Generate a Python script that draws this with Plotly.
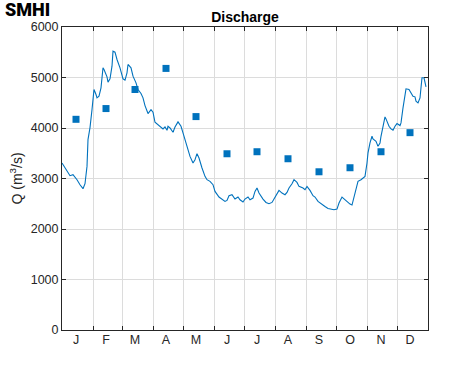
import plotly.graph_objects as go

# Daily discharge (day of year, leap-year axis)
day = [1, 6, 9, 12, 16, 19, 22, 24, 26, 27, 29, 31, 33, 35, 36, 38, 40, 42, 43, 46,
       47, 49, 51, 52, 54, 56, 59, 62, 64, 66, 67, 70, 72, 75, 77, 80, 82, 84, 87, 90,
       92, 94, 97, 101, 102, 104, 106, 107, 109, 112, 114, 117, 120, 122, 125, 127, 129, 132, 134, 136,
       138, 141, 144, 146, 149, 152, 154, 158, 161, 164, 166, 168, 171, 174, 177, 179, 182, 184, 187, 189,
       192, 194, 196, 198, 202, 205, 208, 211, 213, 216, 218, 221, 224, 226, 228, 231, 233, 236, 238, 242,
       244, 246, 249, 252, 254, 257, 261, 264, 267, 271, 273, 276, 278, 281, 283, 286, 289, 291, 293, 295,
       297, 300, 302, 304, 306, 307, 309, 311, 312, 315, 317, 319, 320, 322, 324, 325, 328, 330, 332, 334,
       336, 339, 340, 342, 344, 345, 348, 350, 352, 354, 355, 357, 359, 360, 361, 363, 364, 365]
discharge = [3307, 3141, 3056, 3075, 2976, 2877, 2798, 2897, 3240, 3770, 4008, 4365, 4762, 4663, 4597, 4630, 4796, 5192, 5159, 5014,
             4907, 4974, 5224, 5522, 5502, 5357, 5192, 4974, 4947, 5093, 5258, 5192, 5026, 4894, 4762, 4683, 4597, 4444, 4286, 4365,
             4312, 4114, 4067, 4001, 3982, 4021, 3955, 4034, 4001, 3915, 4021, 4121, 4034, 3902, 3704, 3605, 3438, 3307, 3373, 3492,
             3406, 3208, 3042, 2976, 2943, 2877, 2744, 2633, 2593, 2546, 2566, 2659, 2679, 2593, 2633, 2579, 2534, 2593, 2633, 2579,
             2613, 2744, 2811, 2712, 2593, 2526, 2500, 2526, 2593, 2698, 2764, 2712, 2679, 2725, 2811, 2897, 2976, 2923, 2844, 2811,
             2778, 2844, 2764, 2659, 2633, 2546, 2480, 2447, 2407, 2381, 2381, 2395, 2514, 2633, 2593, 2546, 2494, 2474, 2613, 2778,
             2943, 2976, 3010, 3042, 3307, 3506, 3704, 3836, 3783, 3736, 3637, 3704, 3836, 4034, 4220, 4180, 4034, 3982, 3955, 4034,
             4087, 4048, 4101, 4399, 4630, 4776, 4762, 4696, 4630, 4617, 4530, 4498, 4597, 4796, 4994, 4994, 4895, 4815]

# Monthly mean values (squares)
month_mid_day = [15, 45, 74, 105, 135, 166, 196, 227, 258, 289, 320, 349]
monthly_mean = [4172, 4385, 4762, 5180, 4226, 3490, 3530, 3391, 3133, 3213, 3530, 3908]

month_start_day = [1, 32, 61, 92, 122, 153, 183, 214, 245, 275, 306, 336, 367]
month_labels = ["J", "F", "M", "A", "M", "J", "J", "A", "S", "O", "N", "D"]

BLUE = "#0072BD"
TXT = "#262626"
GRID = "#dcdcdc"
FONT = "Arial, Liberation Sans, Helvetica, sans-serif"

fig = go.Figure()
fig.add_trace(go.Scatter(x=day, y=discharge, mode="lines",
                         line=dict(color=BLUE, width=1.1), showlegend=False, hoverinfo="skip"))
fig.add_trace(go.Scatter(x=month_mid_day, y=monthly_mean, mode="markers", xaxis="x2",
                         marker=dict(symbol="square", size=7, color=BLUE, line=dict(width=0)),
                         showlegend=False, hoverinfo="skip"))

fig.update_layout(
    width=471, height=371,
    margin=dict(l=62, r=43, t=27, b=41),
    paper_bgcolor="white", plot_bgcolor="white",
    font=dict(family=FONT, size=12.5, color=TXT),
    title=dict(text="<b>Discharge</b>", x=0.5, xanchor="center", xref="paper",
               y=1, yref="container", yanchor="top", pad=dict(t=12),
               font=dict(family=FONT, size=14, color="black")),
    xaxis=dict(range=[1, 367], tickvals=month_start_day, ticktext=[""] * len(month_start_day),
               ticks="inside", ticklen=4, tickcolor=TXT, showline=True, linecolor=TXT, linewidth=1,
               mirror="ticks", showgrid=True, gridcolor=GRID, gridwidth=1, zeroline=False),
    xaxis2=dict(range=[1, 367], overlaying="x", anchor="y", side="bottom", matches="x",
                tickvals=month_mid_day, ticktext=month_labels, ticks="", showgrid=False,
                showline=False, zeroline=False, tickfont=dict(size=12.5, color=TXT)),
    yaxis=dict(range=[0, 6000], dtick=1000, tickformat="d", ticks="inside", ticklen=4, tickcolor=TXT,
               showline=True, linecolor=TXT, linewidth=1, mirror="ticks",
               tickfont=dict(size=12.5, color=TXT),
               showgrid=True, gridcolor=GRID, gridwidth=1, zeroline=False,
               title=dict(text="Q (m<sup>3</sup>/s)", standoff=4, font=dict(size=14, color=TXT))),
    hovermode=False,
)

fig.add_annotation(text="SMHI", xref="paper", yref="paper", x=-62/366, y=1 + 27/303,
                   xanchor="left", yanchor="top", showarrow=False,
                   font=dict(family="Roboto, Arial", size=18, color="black", weight=900),
                   xshift=3, yshift=3)

fig.write_html("out.html", config={"displayModeBar": False},
               post_script="document.body.style.margin='0px';")
